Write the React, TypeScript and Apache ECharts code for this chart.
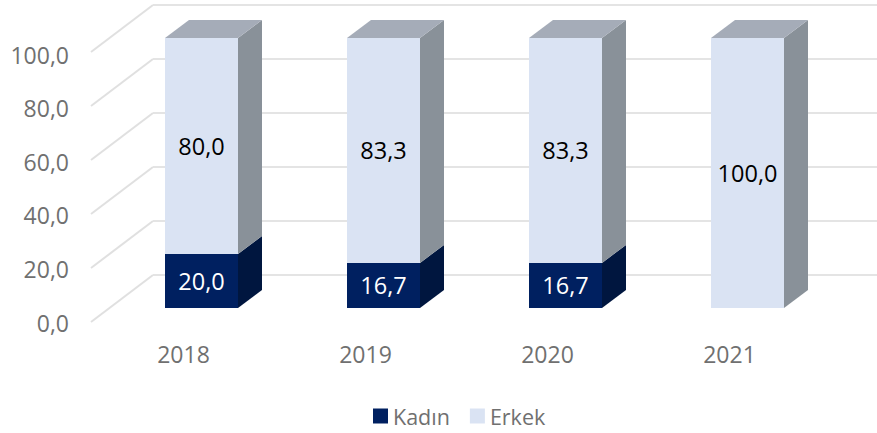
import React, { useEffect, useRef } from "react";
import * as echarts from "echarts";

const categories = ["2018", "2019", "2020", "2021"];
const kadin = [20.0, 16.7, 16.7, 0];
const erkek = [80.0, 83.3, 83.3, 100.0];
const yTicks = [0, 20, 40, 60, 80, 100];

const FONT = '"Open Sans", sans-serif';
const BAR_W = 73;
const DX = 24;
const DY = -18;
const fmt = (v: number) => v.toFixed(1).replace(".", ",");

function barRenderer(values: number[], bases: number[], c: { front: string; side: string; top?: string; label: string }) {
  return (_params: any, api: any) => {
    const i = api.value(0);
    const v = values[i];
    if (!v) return { type: "group", children: [] };
    const base = bases[i];
    const [cx, y0] = api.coord([i, base]);
    const [, y1] = api.coord([i, base + v]);
    const l = Math.round(cx - BAR_W / 2);
    const r = l + BAR_W;
    const children: any[] = [
      { type: "polygon", shape: { points: [[r, y1], [r + DX, y1 + DY], [r + DX, y0 + DY], [r, y0]] }, style: { fill: c.side } },
    ];
    if (c.top) {
      children.push({ type: "polygon", shape: { points: [[l, y1], [l + DX, y1 + DY], [r + DX, y1 + DY], [r, y1]] }, style: { fill: c.top } });
    }
    children.push({ type: "rect", shape: { x: l, y: y1, width: BAR_W, height: y0 - y1 }, style: { fill: c.front } });
    children.push({
      type: "text",
      style: { x: l + BAR_W / 2, y: (y0 + y1) / 2, text: fmt(v), fill: c.label, font: `23.5px ${FONT}`, textAlign: "center", textVerticalAlign: "middle" },
    });
    return { type: "group", children };
  };
}

export default function App() {
  const ref = useRef<HTMLDivElement>(null);
  useEffect(() => {
    document.body.style.margin = "0";
    const chart = echarts.init(ref.current!, undefined, { renderer: "svg" });
    chart.setOption({
      animation: false,
      backgroundColor: "#ffffff",
      textStyle: { fontFamily: FONT },
      legend: {
        data: ["Kadın", "Erkek"],
        left: 368,
        top: 400,
        itemWidth: 15,
        itemHeight: 15,
        itemGap: 20,
        icon: "rect",
        textStyle: { fontFamily: FONT, fontSize: 21.5, color: "#707070" },
      },
      grid: [
        { left: 110, top: 38, width: 728, height: 270 },
        { left: 153, top: 5, right: 0, height: 270 },
        { left: 75, top: 54.5, width: 10, height: 268 },
        { left: 92.5, top: 38, width: 728, height: 270 },
      ],
      xAxis: [
        { gridIndex: 0, type: "category", show: false, data: categories },
        { gridIndex: 1, type: "category", show: false, data: categories },
        { gridIndex: 2, type: "category", show: false, data: categories },
        {
          gridIndex: 3,
          type: "category",
          data: categories,
          axisLine: { show: false },
          axisTick: { show: false },
          axisLabel: { color: "#707070", fontSize: 23, fontFamily: FONT, margin: 34 },
        },
      ],
      yAxis: [
        { gridIndex: 0, type: "value", min: 0, max: 100, interval: 20, show: false },
        {
          gridIndex: 1,
          type: "value",
          min: 0,
          max: 100,
          interval: 20,
          axisLine: { show: false },
          axisTick: { show: false },
          axisLabel: { show: false },
          splitLine: { show: true, lineStyle: { color: "#e4e4e4", width: 2 } },
        },
        {
          gridIndex: 2,
          type: "value",
          min: 0,
          max: 100,
          interval: 20,
          axisLine: { show: false },
          axisTick: { show: false },
          splitLine: { show: false },
          axisLabel: { color: "#707070", fontSize: 23, fontFamily: FONT, margin: 6, formatter: (v: number) => fmt(v) },
        },
        { gridIndex: 3, type: "value", min: 0, max: 100, interval: 20, show: false },
      ],
      series: [
        {
          type: "custom",
          name: "floor",
          xAxisIndex: 0,
          yAxisIndex: 0,
          silent: true,
          z: 1,
          clip: false,
          data: yTicks.map((t) => [0, t]),
          renderItem: (params: any, api: any) => {
            const [, y] = api.coord([0, api.value(1)]);
            const x = params.coordSys.x;
            return {
              type: "line",
              shape: { x1: x - 19, y1: y + 14, x2: x + 43, y2: y - 33 },
              style: { stroke: "#e0e0e0", lineWidth: 2 },
            };
          },
        },
        {
          type: "custom",
          name: "Kadın",
          xAxisIndex: 0,
          yAxisIndex: 0,
          z: 3,
          clip: false,
          itemStyle: { color: "#002060" },
          data: kadin.map((v, i) => [i, v]),
          renderItem: barRenderer(kadin, [0, 0, 0, 0], { front: "#002060", side: "#00163f", label: "#ffffff" }),
        },
        {
          type: "custom",
          name: "Erkek",
          xAxisIndex: 0,
          yAxisIndex: 0,
          z: 3,
          clip: false,
          itemStyle: { color: "#dae3f3" },
          data: erkek.map((v, i) => [i, v]),
          renderItem: barRenderer(erkek, kadin, { front: "#dae3f3", side: "#899199", top: "#a5acb8", label: "#000000" }),
        },
      ],
    });
    return () => chart.dispose();
  }, []);
  return <div ref={ref} style={{ width: 877, height: 433 }} />;
}
